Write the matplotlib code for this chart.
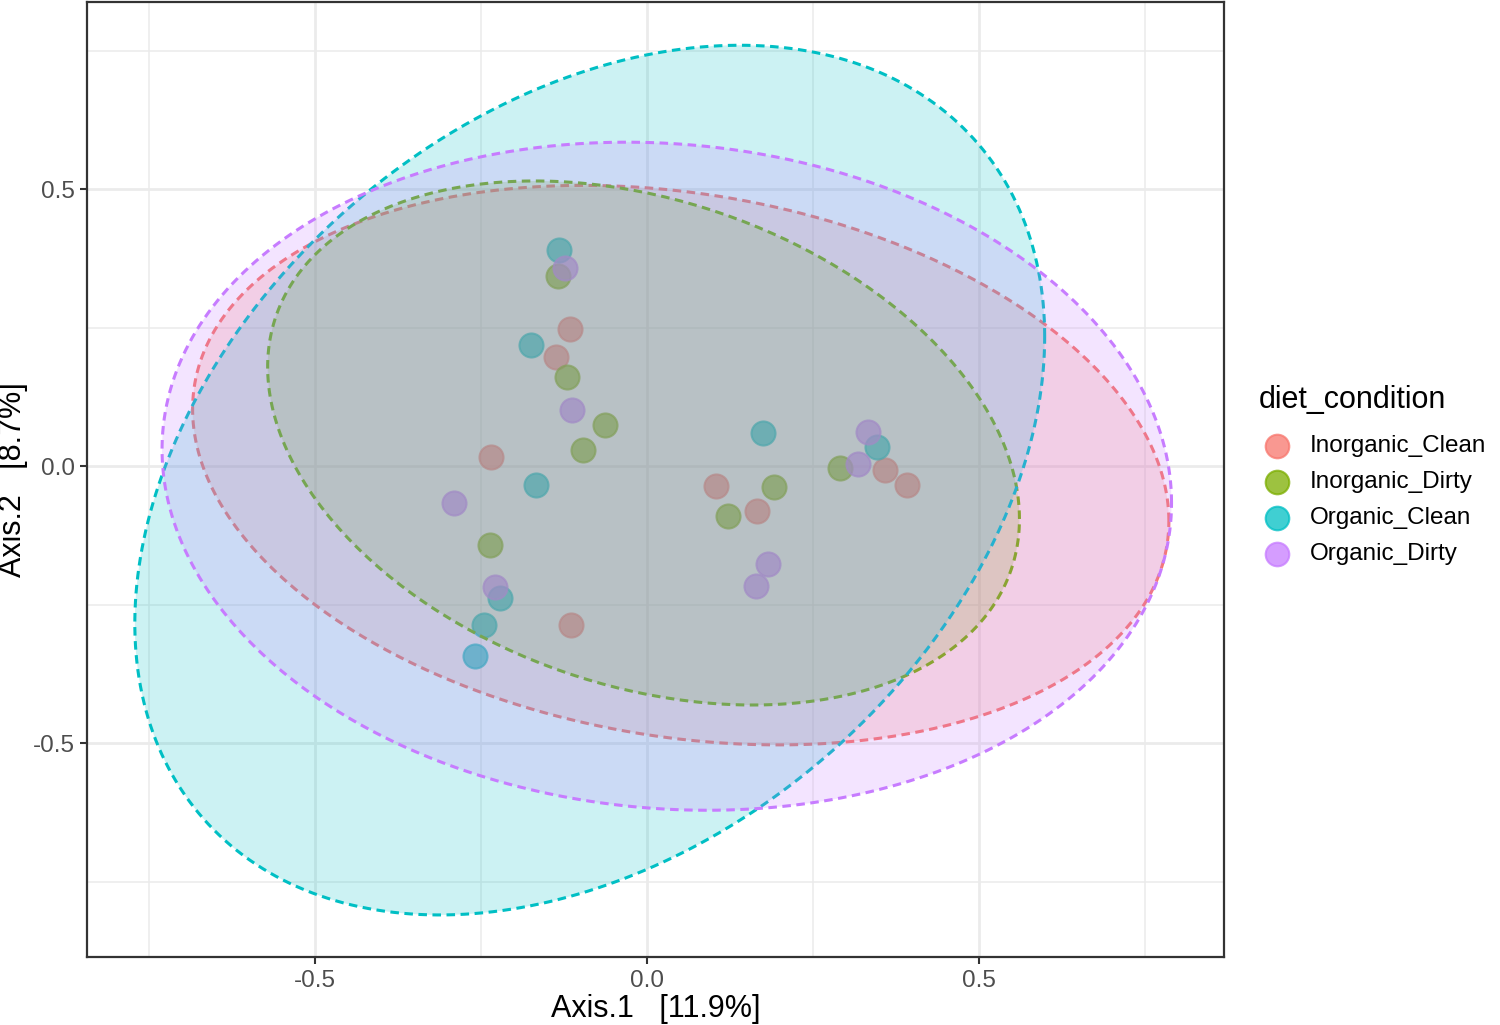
import numpy as np
import matplotlib
matplotlib.use("Agg")
import matplotlib.pyplot as plt
from matplotlib.lines import Line2D

plt.rcParams['font.family'] = ['Liberation Sans', 'DejaVu Sans']
plt.rcParams['axes.unicode_minus'] = False

groups = ['Inorganic_Clean', 'Inorganic_Dirty', 'Organic_Clean', 'Organic_Dirty']
colors = ['#F8766D', '#7CAE00', '#00BFC4', '#C77CFF']

# ordination scores per group
axis1 = {
    'Inorganic_Clean': [-0.116, -0.137, -0.235, 0.104, 0.166, 0.358, 0.392, -0.114],
    'Inorganic_Dirty': [-0.134, -0.120, -0.063, -0.096, -0.236, 0.122, 0.191, 0.291],
    'Organic_Clean':   [-0.133, -0.175, -0.167, 0.175, 0.346, -0.221, -0.245, -0.259],
    'Organic_Dirty':   [-0.123, -0.113, -0.291, 0.333, 0.318, 0.182, 0.164, -0.229],
}
axis2 = {
    'Inorganic_Clean': [0.247, 0.197, 0.016, -0.036, -0.081, -0.007, -0.034, -0.287],
    'Inorganic_Dirty': [0.343, 0.161, 0.074, 0.029, -0.143, -0.090, -0.038, -0.004],
    'Organic_Clean':   [0.390, 0.218, -0.034, 0.060, 0.034, -0.238, -0.287, -0.343],
    'Organic_Dirty':   [0.357, 0.101, -0.067, 0.061, 0.004, -0.177, -0.217, -0.218],
}

# ellipse per group: centre, half width, half height, correlation
ell_cx = [0.051, -0.005, -0.086, 0.030]
ell_cy = [0.002, 0.042, -0.025, -0.018]
ell_sx = [0.735, 0.566, 0.685, 0.760]
ell_sy = [0.505, 0.473, 0.785, 0.603]
ell_rho = [-0.20, -0.29, 0.33, -0.08]

fig = plt.figure(figsize=(15, 10.25), dpi=100)
ax = fig.add_axes([0.058, 0.0663, 0.758, 0.9317])

ax.set_xlim(-0.843, 0.869)
ax.set_ylim(-0.886, 0.838)

ax.set_xticks([-0.5, 0.0, 0.5])
ax.set_yticks([-0.5, 0.0, 0.5])
ax.set_xticks([-0.75, -0.25, 0.25, 0.75], minor=True)
ax.set_yticks([-0.75, -0.25, 0.25, 0.75], minor=True)
ax.grid(True, which='major', color='#EBEBEB', lw=2.0, zorder=0)
ax.grid(True, which='minor', color='#EBEBEB', lw=1.1, zorder=0)
ax.set_axisbelow(True)
ax.tick_params(which='major', length=5, width=1.5, color='#333333',
               labelsize=17.5, labelcolor='#4D4D4D', pad=4)
ax.tick_params(which='minor', length=0)
for s in ax.spines.values():
    s.set_color('#333333')
    s.set_linewidth(1.6)

# points first, ellipses drawn on top like the original
for g, c in zip(groups, colors):
    ax.scatter(axis1[g], axis2[g], s=300, color=c, alpha=0.7,
               edgecolors=c, linewidths=1.5, zorder=2)

t = np.linspace(0, 2 * np.pi, 300)
for i, c in enumerate(colors):
    ex = ell_cx[i] + ell_sx[i] * np.cos(t)
    ey = ell_cy[i] + ell_sy[i] * (ell_rho[i] * np.cos(t)
                                  + np.sqrt(1 - ell_rho[i] ** 2) * np.sin(t))
    ax.fill(ex, ey, facecolor=c, alpha=0.2, edgecolor='none', zorder=3 + i)
    ax.plot(ex, ey, color=c, lw=2.2, linestyle=(0, (2.8, 1.8)), zorder=3 + i)

ax.set_xlabel('Axis.1   [11.9%]', fontsize=22, labelpad=2)
ax.set_ylabel('Axis.2   [8.7%]', fontsize=22, labelpad=3)

# legend, laid out by hand to match ggplot spacing
W, H = 1500, 1025
fig.text(1259 / W, 1 - 400 / H, 'diet_condition', fontsize=22,
         ha='left', va='center')
for i, (g, c) in enumerate(zip(groups, colors)):
    yy = 1 - (446 + 36 * i) / H
    fig.add_artist(Line2D([1277 / W], [yy], marker='o', linestyle='none',
                          markersize=17, color=c, alpha=0.75,
                          markeredgewidth=1.5, transform=fig.transFigure))
    fig.text(1310 / W, yy, g, fontsize=17.5, ha='left', va='center')

fig.savefig('out.png', dpi=100)
